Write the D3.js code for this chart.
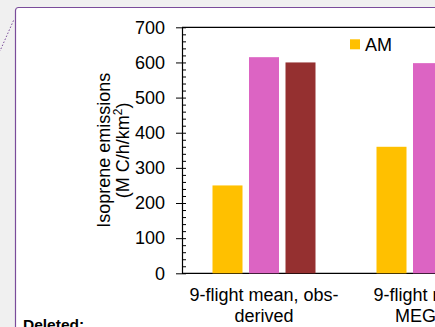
<!DOCTYPE html>
<html>
<head>
<meta charset="utf-8">
<script src="https://cdn.jsdelivr.net/npm/d3@7"></script>
<style>
  html, body { margin: 0; padding: 0; background: #f0f0f0; overflow: hidden; }
  svg { display: block; font-family: "Liberation Sans", Arial, sans-serif; }
</style>
</head>
<body>
<svg id="chart" width="435" height="327"></svg>
<script>
// Isoprene emissions by time of day, two estimates
const categories = ["9-flight mean, obs-derived", "9-flight mean, MEGAN"];
const categoryLines = [["9-flight mean, obs-", "derived"], ["9-flight mean,", "MEGAN"]];
const seriesNames = ["AM", "Midday", "PM"];
const seriesColors = ["#ffc000", "#dc64c3", "#953030"];
const amValues = [250, 360];
const middayValues = [615, 598];
const pmValues = [600, null];
const yTicks = [0, 100, 200, 300, 400, 500, 600, 700];

const seriesValues = [amValues, middayValues, pmValues];

const svg = d3.select("#chart");

// comment balloon frame and its connector
svg.append("rect")
  .attr("x", 15.5).attr("y", 7.5)
  .attr("width", 460).attr("height", 360)
  .attr("rx", 3).attr("ry", 3)
  .attr("fill", "#ffffff")
  .attr("stroke", "#7a4c9a").attr("stroke-width", 1.2);

svg.append("line")
  .attr("x1", 13.5).attr("y1", 20.5)
  .attr("x2", 0).attr("y2", 51)
  .attr("stroke", "#7a4c9a").attr("stroke-width", 1)
  .attr("stroke-dasharray", "1.5,1.8");

svg.append("text")
  .attr("x", 23).attr("y", 330)
  .attr("font-size", 15.5).attr("font-weight", "bold")
  .attr("fill", "#000")
  .text("Deleted:");

// plot geometry
const plotLeft = 182, plotTop = 27.3, plotBottom = 273.3, step = 164;

const y = d3.scaleLinear().domain([0, 700]).range([plotBottom, plotTop]);

const x0 = d3.scaleBand()
  .domain(categories)
  .range([plotLeft, plotLeft + step * categories.length])
  .padding(0);

const x1 = d3.scaleBand()
  .domain(seriesNames)
  .range([0, 103])
  .paddingInner(6.5 / 36.5)
  .paddingOuter(0);

const g = svg.append("g");

// plot frame top and baseline
g.append("line")
  .attr("x1", plotLeft).attr("x2", 520)
  .attr("y1", y(700)).attr("y2", y(700))
  .attr("stroke", "#000").attr("stroke-width", 1.2);
g.append("line")
  .attr("x1", plotLeft).attr("x2", 520)
  .attr("y1", y(0)).attr("y2", y(0))
  .attr("stroke", "#000").attr("stroke-width", 1.2);

// bars
categories.forEach((cat, ci) => {
  const groupStart = x0(cat) + x0.bandwidth() / 2 - 51.5;
  seriesNames.forEach((s, si) => {
    const v = seriesValues[si][ci];
    if (v == null) return;
    g.append("rect")
      .attr("x", groupStart + x1(s))
      .attr("y", y(v))
      .attr("width", x1.bandwidth())
      .attr("height", y(0) - y(v))
      .attr("fill", seriesColors[si]);
  });
});

// minor ticks (inside)
const minor = d3.range(0, 701, 20);
g.append("g")
  .attr("transform", `translate(${plotLeft},0)`)
  .call(d3.axisRight(y).tickValues(minor).tickSize(4).tickFormat(""))
  .call(a => a.select(".domain").remove())
  .call(a => a.selectAll("line").attr("stroke", "#000").attr("stroke-width", 1));

// major ticks and labels
g.append("g")
  .attr("transform", `translate(${plotLeft},0)`)
  .call(d3.axisLeft(y).tickValues(yTicks).tickSizeInner(6).tickSizeOuter(0).tickPadding(11))
  .call(a => a.select(".domain").attr("stroke", "#000").attr("stroke-width", 1.2))
  .call(a => a.selectAll("line").attr("stroke", "#000").attr("stroke-width", 1))
  .call(a => a.selectAll("text")
    .attr("font-size", 18)
    .attr("font-family", "'Liberation Sans', Arial, sans-serif")
    .attr("fill", "#000"));

// category labels
categories.forEach((cat, ci) => {
  const cx = x0(cat) + x0.bandwidth() / 2;
  const t = g.append("text")
    .attr("text-anchor", "middle")
    .attr("font-size", 18)
    .attr("fill", "#000");
  categoryLines[ci].forEach((line, li) => {
    t.append("tspan").attr("x", cx).attr("y", 301 + li * 20.5).text(line);
  });
});

// y axis title
const title = g.append("text")
  .attr("transform", `translate(0,${(plotTop + plotBottom) / 2}) rotate(-90)`)
  .attr("text-anchor", "middle")
  .attr("font-size", 18)
  .attr("fill", "#000");
title.append("tspan").attr("x", 0).attr("y", 110).text("Isoprene emissions");
const l2 = title.append("tspan").attr("x", 0).attr("y", 128.5);
l2.append("tspan").text("(M C/h/km");
l2.append("tspan").attr("font-size", 12).attr("dy", -7).text("2");
l2.append("tspan").attr("dy", 7).text(")");

// legend, laid out horizontally
const legend = g.append("g").attr("transform", "translate(350,39.3)");
seriesNames.forEach((s, i) => {
  const item = legend.append("g").attr("transform", `translate(${i * 110},0)`);
  item.append("rect").attr("width", 10).attr("height", 10).attr("fill", seriesColors[i]);
  item.append("text").attr("x", 15).attr("y", 11.5)
    .attr("font-size", 18).attr("fill", "#000").text(s);
});
</script>
</body>
</html>
